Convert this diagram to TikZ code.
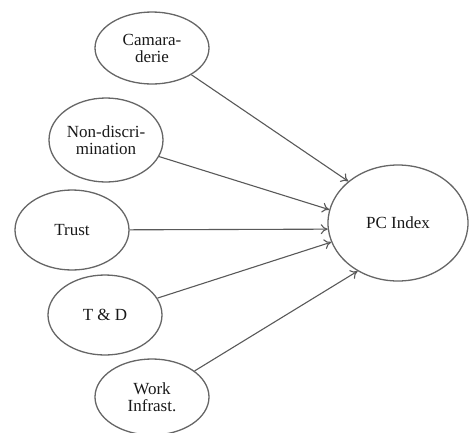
\documentclass[tikz,border=0pt]{standalone}
\usepackage{fontspec}
\setmainfont{Liberation Serif}
\usetikzlibrary{shapes.geometric,arrows.meta}
\begin{document}
\begin{tikzpicture}[x=1pt,y=-1pt,
  factor/.style={ellipse,draw=black!60,line width=1.3pt,inner sep=0pt,
    minimum width=114pt,minimum height=80pt,align=center,
    font=\fontsize{17}{17}\selectfont,text=black!90},
  link/.style={draw=black!65,line width=1.1pt,-{To[length=7pt,width=10pt]}}]
\useasboundingbox (0,0) rectangle (469,432);
\node[factor,minimum height=72pt] (cam) at (152,48) {Camara-\\derie};
\node[factor,minimum height=84pt] (non) at (106,140) {Non-discri-\\mination};
\node[factor] (tru) at (72,230) {Trust};
\node[factor] (td) at (105,315) {T \& D};
\node[factor,minimum height=76pt] (wrk) at (152,397) {Work\\Infrast.};
\node[factor,minimum width=140pt,minimum height=116pt] (pc) at (398,223) {PC Index};
\draw[link] (cam) -- (pc.140);
\draw[link] (non) -- (pc.169);
\draw[link] (tru) -- (pc.185);
\draw[link] (td) -- (pc.196);
\draw[link] (wrk) -- (pc.230);
\end{tikzpicture}
\end{document}
